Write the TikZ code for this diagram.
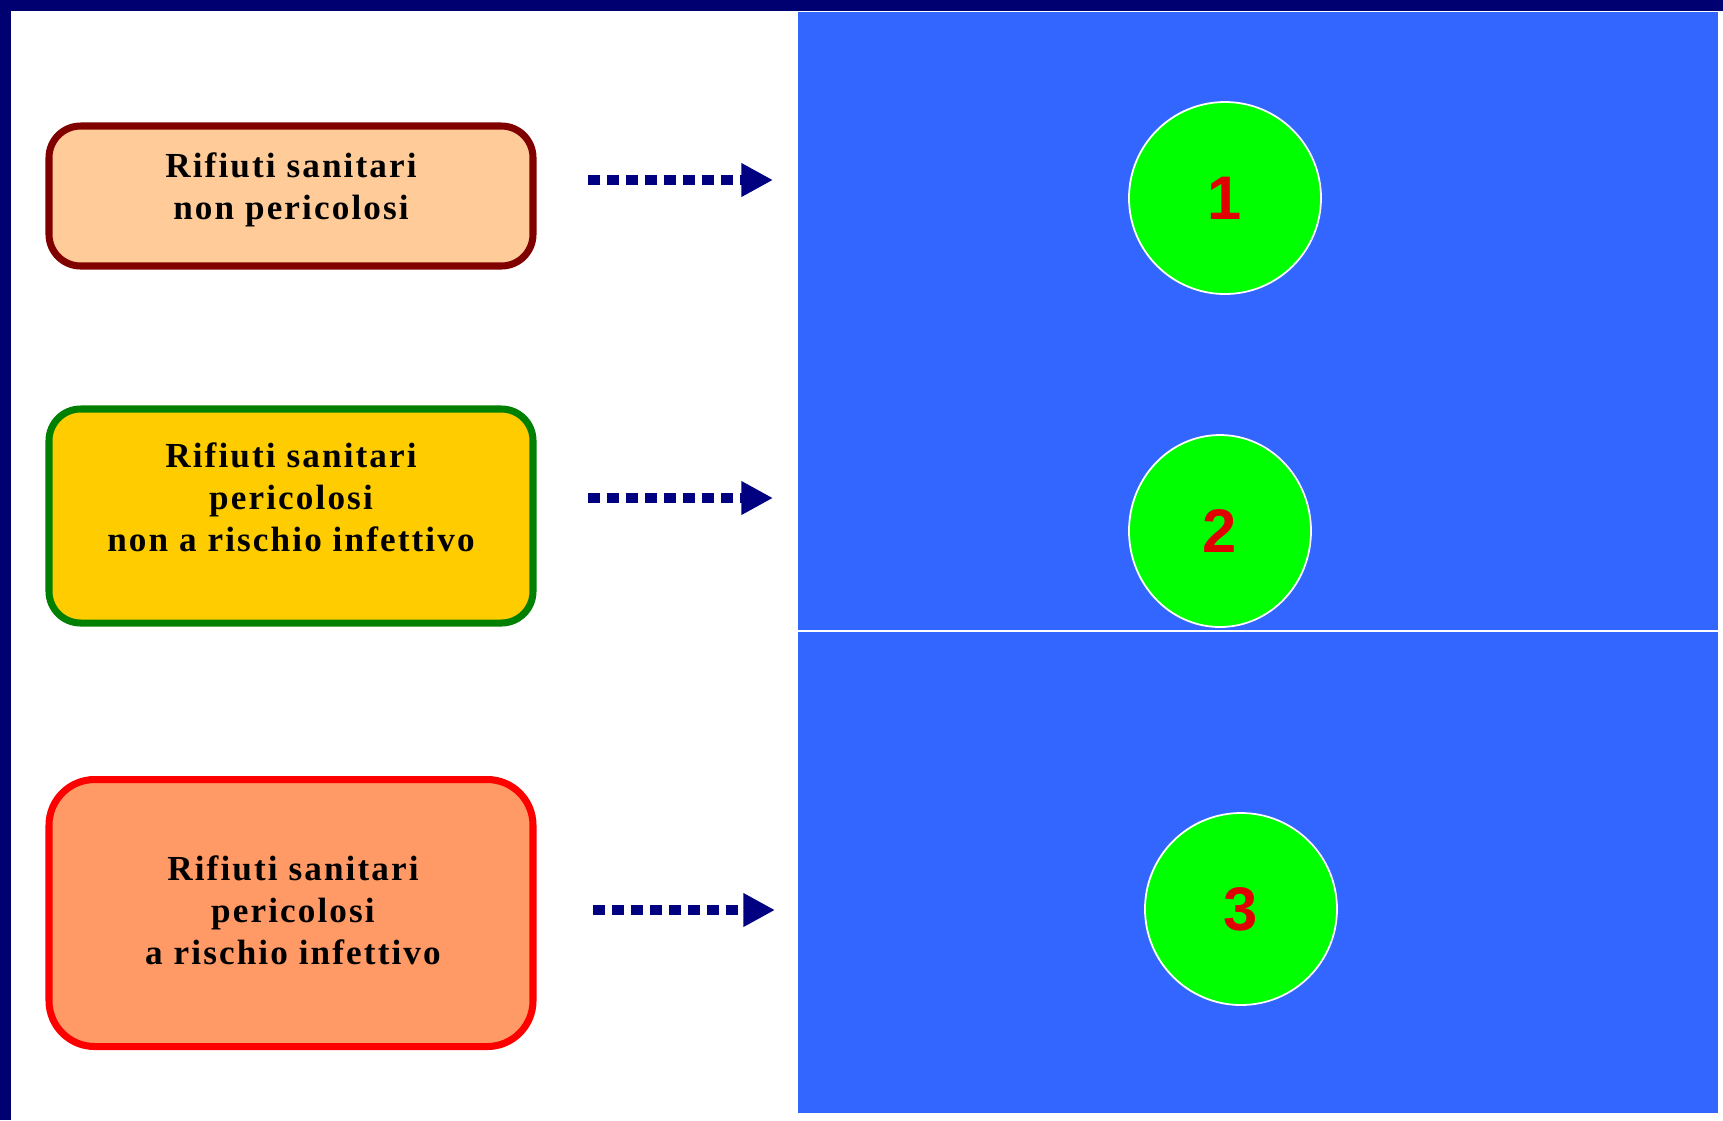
\documentclass[tikz,border=0pt]{standalone}
\usepackage{fontspec}
\setmainfont{Liberation Serif}
\newfontfamily\numfont{Liberation Sans}
\usetikzlibrary{arrows.meta,calc,shapes.geometric}
\definecolor{navyframe}{HTML}{000070}
\definecolor{panelblue}{HTML}{3366FF}
\definecolor{arrownavy}{HTML}{000080}
\definecolor{brdA}{HTML}{800000}
\definecolor{fillA}{HTML}{FFCC99}
\definecolor{brdB}{HTML}{008000}
\definecolor{fillB}{HTML}{FFCC00}
\definecolor{brdC}{HTML}{FF0000}
\definecolor{fillC}{HTML}{FF9966}
\definecolor{disc}{HTML}{00FF00}
\definecolor{numred}{HTML}{E00000}
\tikzset{
  catbox/.style={draw, rounded corners=9pt, line width=2pt, minimum width=484*0.01cm, inner sep=0pt},
  boxtxt/.style={align=center, font=\addfontfeatures{LetterSpace=6}\fontsize{10}{12}\selectfont\bfseries, inner sep=0pt},
  dotarrow/.style={draw=arrownavy, line width=3.1pt, dash pattern=on 3.3pt off 2.1pt,
    -{Triangle[length=9pt,width=9pt]}},
  numdisc/.style={circle, fill=disc, draw=white, line width=0.5pt, minimum size=192*0.01cm, inner sep=0pt,
    font=\numfont\fontsize{17.5}{20}\selectfont\bfseries, text=numred}
}
\begin{document}
\begin{tikzpicture}[x=0.01cm,y=-0.01cm]
\useasboundingbox (0,0) rectangle (1723,1120);
% frame and backgrounds
\fill[navyframe] (0,0) rectangle (1723,1120);
\fill[white] (11,11) rectangle (1723,1120);
\fill[panelblue] (798,12) rectangle (1718,1113);
\draw[white, line width=0.7pt] (798,631) -- (1718,631);
% boxes
\node[catbox, draw=brdA, fill=fillA, minimum height=140*0.01cm] (b1) at (291,196) {};
\node[boxtxt] (t1) at (291,190) {Rifiuti sanitari\\non pericolosi};
\node[catbox, draw=brdB, fill=fillB, minimum height=214*0.01cm] (b2) at (291,516) {};
\node[boxtxt] (t2) at (291,497) {Rifiuti sanitari\\pericolosi\\non a rischio infettivo};
\node[catbox, draw=brdC, fill=fillC, minimum height=267*0.01cm, rounded corners=13pt] (b3) at (291,913) {};
\node[boxtxt] (t3) at (293,910) {Rifiuti sanitari\\pericolosi\\a rischio infettivo};
% arrows
\coordinate (a1s) at (588,180);
\coordinate (a1e) at (773,180);
\coordinate (a2s) at (588,498);
\coordinate (a2e) at (773,498);
\coordinate (a3s) at (593,910);
\coordinate (a3e) at (775,910);
\draw[dotarrow] (a1s) -- (a1e);
\draw[dotarrow] (a2s) -- (a2e);
\draw[dotarrow] (a3s) -- (a3e);
% discs
\node[numdisc] (c1) at (1225,198) {1};
\node[numdisc, ellipse, minimum size=0pt, minimum width=182*0.01cm, minimum height=192*0.01cm] (c2) at (1220,531) {2};
\node[numdisc] (c3) at (1241,909) {3};
\end{tikzpicture}
\end{document}
